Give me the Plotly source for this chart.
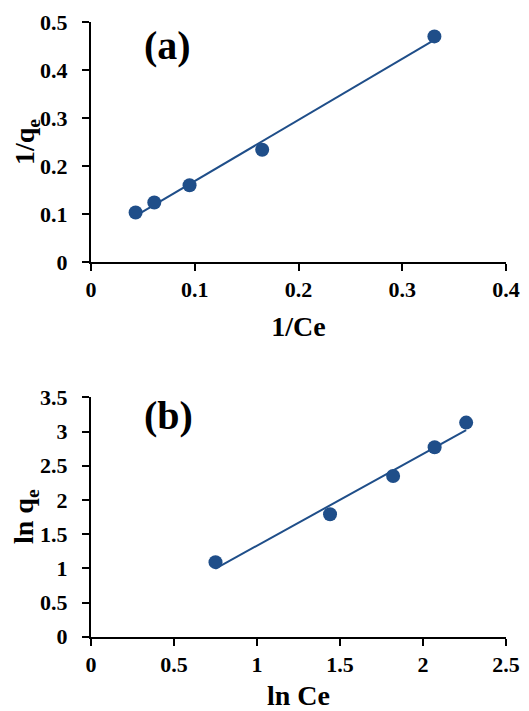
import numpy as np
import plotly.graph_objects as go

# Panel (a): Langmuir linear form
inv_ce = [0.043, 0.061, 0.095, 0.165, 0.331]
inv_qe = [0.103, 0.124, 0.160, 0.234, 0.470]

# Panel (b): Freundlich linear form
ln_ce = [0.75, 1.44, 1.82, 2.07, 2.26]
ln_qe = [1.09, 1.79, 2.35, 2.77, 3.13]

color = "#1F4E89"
font_family = "Liberation Serif"

fig = go.Figure()

def add_panel(x, y, xa, ya):
    slope, inter = np.polyfit(x, y, 1)
    xs = [min(x), max(x)]
    ys = [slope * v + inter for v in xs]
    fig.add_trace(go.Scatter(x=xs, y=ys, mode="lines", line=dict(color=color, width=2),
                             xaxis=xa, yaxis=ya, showlegend=False, hoverinfo="skip"))
    fig.add_trace(go.Scatter(x=x, y=y, mode="markers", marker=dict(color=color, size=14),
                             xaxis=xa, yaxis=ya, showlegend=False))

add_panel(inv_ce, inv_qe, "x", "y")
add_panel(ln_ce, ln_qe, "x2", "y2")

W, H = 529, 711
xdom = [91 / W, 506 / W]
ydom_a = [(H - 262) / H, (H - 22) / H]
ydom_b = [(H - 636.7) / H, (H - 397.3) / H]

axis_common = dict(
    showline=True, linecolor="black", linewidth=2,
    ticks="outside", ticklen=7, tickwidth=2, tickcolor="black",
    showgrid=False, zeroline=False,
    tickfont=dict(family=font_family, size=22, color="black", weight="bold"),
    title_font=dict(family=font_family, size=28, color="black", weight="bold"),
    automargin=False,
)

title_font = dict(family=font_family, size=28, color="black", weight="bold")
label_font = dict(family=font_family, size=40, color="black", weight="bold")

fig.update_layout(
    width=W, height=H,
    margin=dict(l=0, r=0, t=0, b=0),
    plot_bgcolor="white", paper_bgcolor="white",
    xaxis=dict(domain=xdom, anchor="y", range=[0, 0.4], dtick=0.1,
               ticklabelstandoff=0,
               title=dict(text="1/Ce"), **axis_common),
    yaxis=dict(domain=ydom_a, anchor="x", range=[0, 0.5], dtick=0.1,
               ticklabelstandoff=10, **axis_common),
    xaxis2=dict(domain=xdom, anchor="y2", range=[0, 2.5], dtick=0.5,
                ticklabelstandoff=0,
                title=dict(text="ln Ce"), **axis_common),
    yaxis2=dict(domain=ydom_b, anchor="x2", range=[0, 3.5], dtick=0.5,
                ticklabelstandoff=10, **axis_common),
    annotations=[
        dict(text="1/q<sub>e</sub>", x=26 / W, y=sum(ydom_a) / 2, xref="paper", yref="paper",
             textangle=-90, showarrow=False, xanchor="center", yanchor="middle", font=title_font),
        dict(text="ln q<sub>e</sub>", x=25 / W, y=sum(ydom_b) / 2, xref="paper", yref="paper",
             textangle=-90, showarrow=False, xanchor="center", yanchor="middle", font=title_font),
        dict(text="(a)", x=0.074, y=0.452, xref="x", yref="y", showarrow=False, font=label_font),
        dict(text="(b)", x=0.464, y=3.24, xref="x2", yref="y2", showarrow=False, font=label_font),
    ],
)

fig.write_html("out.html")
